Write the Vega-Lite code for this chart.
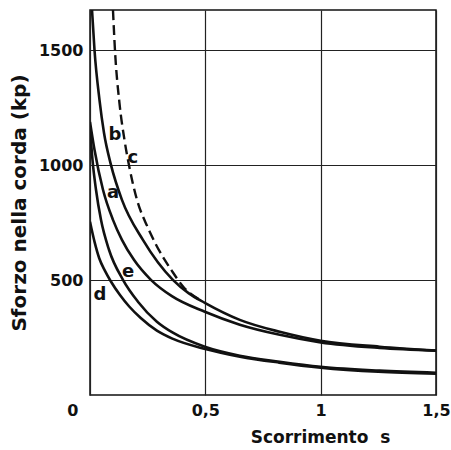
{
  "$schema": "https://vega.github.io/schema/vega-lite/v6.json",
  "width": 346,
  "height": 385,
  "autosize": "none",
  "padding": {"left": 90, "top": 10, "right": 15, "bottom": 55},
  "background": "white",
  "config": {
    "view": {"stroke": "#111", "strokeWidth": 1.5},
    "font": "DejaVu Sans"
  },
  "datasets": {
    "curves": [
      {"curve": "b", "s": 0.0087, "F": 1675},
      {"curve": "b", "s": 0.0195, "F": 1501},
      {"curve": "b", "s": 0.0411, "F": 1284},
      {"curve": "b", "s": 0.0606, "F": 1141},
      {"curve": "b", "s": 0.0909, "F": 1001},
      {"curve": "b", "s": 0.1385, "F": 849},
      {"curve": "b", "s": 0.2294, "F": 675},
      {"curve": "b", "s": 0.3593, "F": 501},
      {"curve": "b", "s": 0.4286, "F": 442},
      {"curve": "b", "s": 0.4978, "F": 401},
      {"curve": "b", "s": 0.6494, "F": 327},
      {"curve": "b", "s": 0.8225, "F": 275},
      {"curve": "b", "s": 1.0, "F": 236},
      {"curve": "b", "s": 1.2554, "F": 210},
      {"curve": "b", "s": 1.5, "F": 193},
      {"curve": "a", "s": 0.0, "F": 1188},
      {"curve": "a", "s": 0.0195, "F": 1067},
      {"curve": "a", "s": 0.0563, "F": 893},
      {"curve": "a", "s": 0.0996, "F": 762},
      {"curve": "a", "s": 0.1385, "F": 675},
      {"curve": "a", "s": 0.1905, "F": 588},
      {"curve": "a", "s": 0.2641, "F": 501},
      {"curve": "a", "s": 0.355, "F": 430},
      {"curve": "a", "s": 0.4978, "F": 362},
      {"curve": "a", "s": 0.6494, "F": 306},
      {"curve": "a", "s": 0.8225, "F": 262},
      {"curve": "a", "s": 1.0, "F": 229},
      {"curve": "a", "s": 1.2554, "F": 205},
      {"curve": "a", "s": 1.5, "F": 193},
      {"curve": "e", "s": 0.0, "F": 1167},
      {"curve": "e", "s": 0.0108, "F": 1023},
      {"curve": "e", "s": 0.026, "F": 893},
      {"curve": "e", "s": 0.0476, "F": 762},
      {"curve": "e", "s": 0.0823, "F": 632},
      {"curve": "e", "s": 0.1429, "F": 501},
      {"curve": "e", "s": 0.2078, "F": 406},
      {"curve": "e", "s": 0.29, "F": 319},
      {"curve": "e", "s": 0.3593, "F": 271},
      {"curve": "e", "s": 0.4978, "F": 210},
      {"curve": "e", "s": 0.6494, "F": 171},
      {"curve": "e", "s": 0.8225, "F": 145},
      {"curve": "e", "s": 1.0, "F": 123},
      {"curve": "e", "s": 1.2554, "F": 106},
      {"curve": "e", "s": 1.5, "F": 97},
      {"curve": "d", "s": 0.0, "F": 754},
      {"curve": "d", "s": 0.02, "F": 665},
      {"curve": "d", "s": 0.04, "F": 595},
      {"curve": "d", "s": 0.065, "F": 540},
      {"curve": "d", "s": 0.09, "F": 495},
      {"curve": "d", "s": 0.13, "F": 435},
      {"curve": "d", "s": 0.17, "F": 385},
      {"curve": "d", "s": 0.22, "F": 335},
      {"curve": "d", "s": 0.29, "F": 280},
      {"curve": "d", "s": 0.36, "F": 244},
      {"curve": "d", "s": 0.5, "F": 200},
      {"curve": "d", "s": 0.65, "F": 167},
      {"curve": "d", "s": 0.82, "F": 141},
      {"curve": "d", "s": 1.0, "F": 119},
      {"curve": "d", "s": 1.25, "F": 101},
      {"curve": "d", "s": 1.5, "F": 93},
      {"curve": "c", "s": 0.0996, "F": 1675},
      {"curve": "c", "s": 0.1082, "F": 1501},
      {"curve": "c", "s": 0.1277, "F": 1270},
      {"curve": "c", "s": 0.1494, "F": 1110},
      {"curve": "c", "s": 0.171, "F": 990},
      {"curve": "c", "s": 0.2035, "F": 850},
      {"curve": "c", "s": 0.25, "F": 730},
      {"curve": "c", "s": 0.2857, "F": 655},
      {"curve": "c", "s": 0.355, "F": 540},
      {"curve": "c", "s": 0.4069, "F": 468},
      {"curve": "c", "s": 0.4762, "F": 414}
    ],
    "labels": [
      {"label": "a", "s": 0.1, "F": 878},
      {"label": "b", "s": 0.108, "F": 1131},
      {"label": "c", "s": 0.186, "F": 1031},
      {"label": "e", "s": 0.165, "F": 535},
      {"label": "d", "s": 0.043, "F": 436}
    ]
  },
  "layer": [
    {
      "data": {"name": "curves"},
      "transform": [{"filter": "datum.curve != 'c'"}],
      "mark": {"type": "line", "interpolate": "monotone", "color": "#111", "strokeWidth": 2.6, "clip": true},
      "encoding": {
        "x": {
          "field": "s", "type": "quantitative",
          "scale": {"domain": [0, 1.5], "nice": false},
          "axis": {
            "values": [0, 0.5, 1, 1.5],
            "labelExpr": "replace(datum.label, '.', ',')",
            "format": ".1~f",
            "grid": true, "gridColor": "#222", "gridWidth": 1.2, "gridOpacity": 1,
            "domain": false, "ticks": false,
            "labelFont": "DejaVu Sans", "labelFontWeight": "bold", "labelFontSize": 16, "labelColor": "#111",
            "labelPadding": 7,
            "labelAlign": {"condition": {"test": "datum.value == 0", "value": "right"}, "value": "center"},
            "labelOffset": {"condition": {"test": "datum.value == 0", "value": -12}, "value": 0},
            "labelFlush": false,
            "title": "Scorrimento\u00a0\u00a0s",
            "titleFont": "DejaVu Sans", "titleFontWeight": "bold", "titleFontSize": 17, "titleColor": "#111",
            "titleX": 230, "titleAlign": "center", "titlePadding": 11
          }
        },
        "y": {
          "field": "F", "type": "quantitative",
          "scale": {"domain": [0, 1675], "nice": false},
          "axis": {
            "values": [500, 1000, 1500],
            "format": "d",
            "grid": true, "gridColor": "#222", "gridWidth": 1.2, "gridOpacity": 1,
            "domain": false, "ticks": false,
            "labelFont": "DejaVu Sans", "labelFontWeight": "bold", "labelFontSize": 16, "labelColor": "#111",
            "labelPadding": 7,
            "title": "Sforzo nella corda (kp)",
            "titleFont": "DejaVu Sans", "titleFontWeight": "bold", "titleFontSize": 20, "titleColor": "#111",
            "titlePadding": 9
          }
        },
        "detail": {"field": "curve"}
      }
    },
    {
      "data": {"name": "curves"},
      "transform": [{"filter": "datum.curve == 'c'"}],
      "mark": {"type": "line", "interpolate": "monotone", "color": "#111", "strokeWidth": 2.4, "strokeDash": [10, 5], "clip": true},
      "encoding": {
        "x": {"field": "s", "type": "quantitative"},
        "y": {"field": "F", "type": "quantitative"}
      }
    },
    {
      "data": {"name": "labels"},
      "mark": {"type": "text", "font": "DejaVu Sans", "fontWeight": "bold", "fontSize": 18, "color": "#111"},
      "encoding": {
        "x": {"field": "s", "type": "quantitative"},
        "y": {"field": "F", "type": "quantitative"},
        "text": {"field": "label"}
      }
    }
  ]
}
